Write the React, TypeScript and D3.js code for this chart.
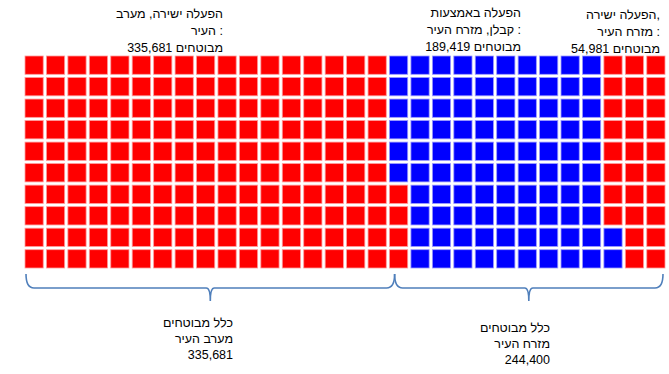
import React from 'react';
import * as d3 from 'd3';

// groups, in fill order (column by column, bottom to top)
const groupLabels = [
  ['הפעלה ישירה, מערב', 'העיר :', '335,681 מבוטחים'],
  ['הפעלה באמצעות', 'קבלן, מזרח העיר :', '189,419 מבוטחים'],
  ['הפעלה ישירה,', 'מזרח העיר :', '54,981 מבוטחים'],
];
const groupValues = [335681, 189419, 54981];
const groupColors = ['#ff0000', '#0000ff', '#ff0000'];

const regionLabels = [
  ['כלל מבוטחים', 'מערב העיר', '335,681'],
  ['כלל מבוטחים', 'מזרח העיר', '244,400'],
];
const regionGroups = [[0], [1, 2]];

const nCols = 30;
const nRows = 10;

const LRM = '\u200E';

const App = () => {
  const width = 669;
  const height = 374;
  const total = d3.sum(groupValues);
  const nCells = nCols * nRows;

  // cells per group, rounded so they add up to the grid
  const raw = groupValues.map(v => (v / total) * nCells);
  const counts = raw.map(Math.round);
  const diff = nCells - d3.sum(counts);
  counts[0] += diff;

  const cells: { col: number; row: number; g: number }[] = [];
  let idx = 0;
  counts.forEach((c, g) => {
    for (let k = 0; k < c; k++) {
      const col = Math.floor(idx / nRows);
      const row = nRows - 1 - (idx % nRows);
      cells.push({ col, row, g });
      idx++;
    }
  });

  const x = d3.scaleBand<number>().domain(d3.range(nCols)).range([25, 665]).paddingInner(0.15).paddingOuter(0);
  const y = d3.scaleBand<number>().domain(d3.range(nRows)).range([56, 268]).paddingInner(0.15).paddingOuter(0);

  // brace extents along the grid in value units
  const xv = d3.scaleLinear().domain([0, total]).range([26, 663]);
  const cum = [0, ...d3.cumsum(groupValues)];
  const regions = regionGroups.map(gs => {
    const a = cum[gs[0]];
    const b = cum[gs[gs.length - 1] + 1];
    return [xv(a), xv(b)];
  });

  const yTop = 274;
  const yMid = 288;
  const yTip = 301;
  const brace = (x0: number, x1: number) => {
    const xm = (x0 + x1) / 2;
    const p = d3.path();
    p.moveTo(x0, yTop);
    p.quadraticCurveTo(x0, yMid, x0 + 8, yMid);
    p.lineTo(xm - 4, yMid);
    p.quadraticCurveTo(xm, yMid, xm, yTip);
    p.quadraticCurveTo(xm, yMid, xm + 4, yMid);
    p.lineTo(x1 - 8, yMid);
    p.quadraticCurveTo(x1, yMid, x1, yTop);
    return p.toString();
  };

  const topAnchors = [223, 521, 660];
  const topBase = [18, 17, 19];
  const botAnchors = [233, 550];
  const botBase = [327, 332];
  const ltr = { direction: 'ltr', unicodeBidi: 'isolate' } as React.CSSProperties;

  return (
    <svg width={width} height={height} style={{ position: 'absolute', left: 0, top: 0, background: '#fff' }}
      fontFamily="'Liberation Sans', 'DejaVu Sans', sans-serif" fontSize={12.5}>
      <g>
        {cells.map((c, i) => (
          <rect key={i} x={x(c.col)} y={y(c.row)} width={x.bandwidth()} height={y.bandwidth()}
            fill={groupColors[c.g]} stroke={c.g === 1 ? '#9a9aff' : '#ff9a9a'} strokeWidth={0.8} />
        ))}
      </g>
      <g fill="none" stroke="#4f7fbb" strokeWidth={1.6}>
        {regions.map((r, i) => <path key={i} d={brace(r[0], r[1])} />)}
      </g>
      <g fill="#000" textAnchor="end">
        {groupLabels.map((lines, i) =>
          lines.map((l, j) => (
            <text key={`t${i}-${j}`} x={topAnchors[i]} y={topBase[i] + j * 17} style={ltr}>{LRM + l + LRM}</text>
          ))
        )}
        {regionLabels.map((lines, i) =>
          lines.map((l, j) => (
            <text key={`b${i}-${j}`} x={botAnchors[i]} y={botBase[i] + j * 16} style={ltr}>{LRM + l + LRM}</text>
          ))
        )}
      </g>
    </svg>
  );
};

export default App;
